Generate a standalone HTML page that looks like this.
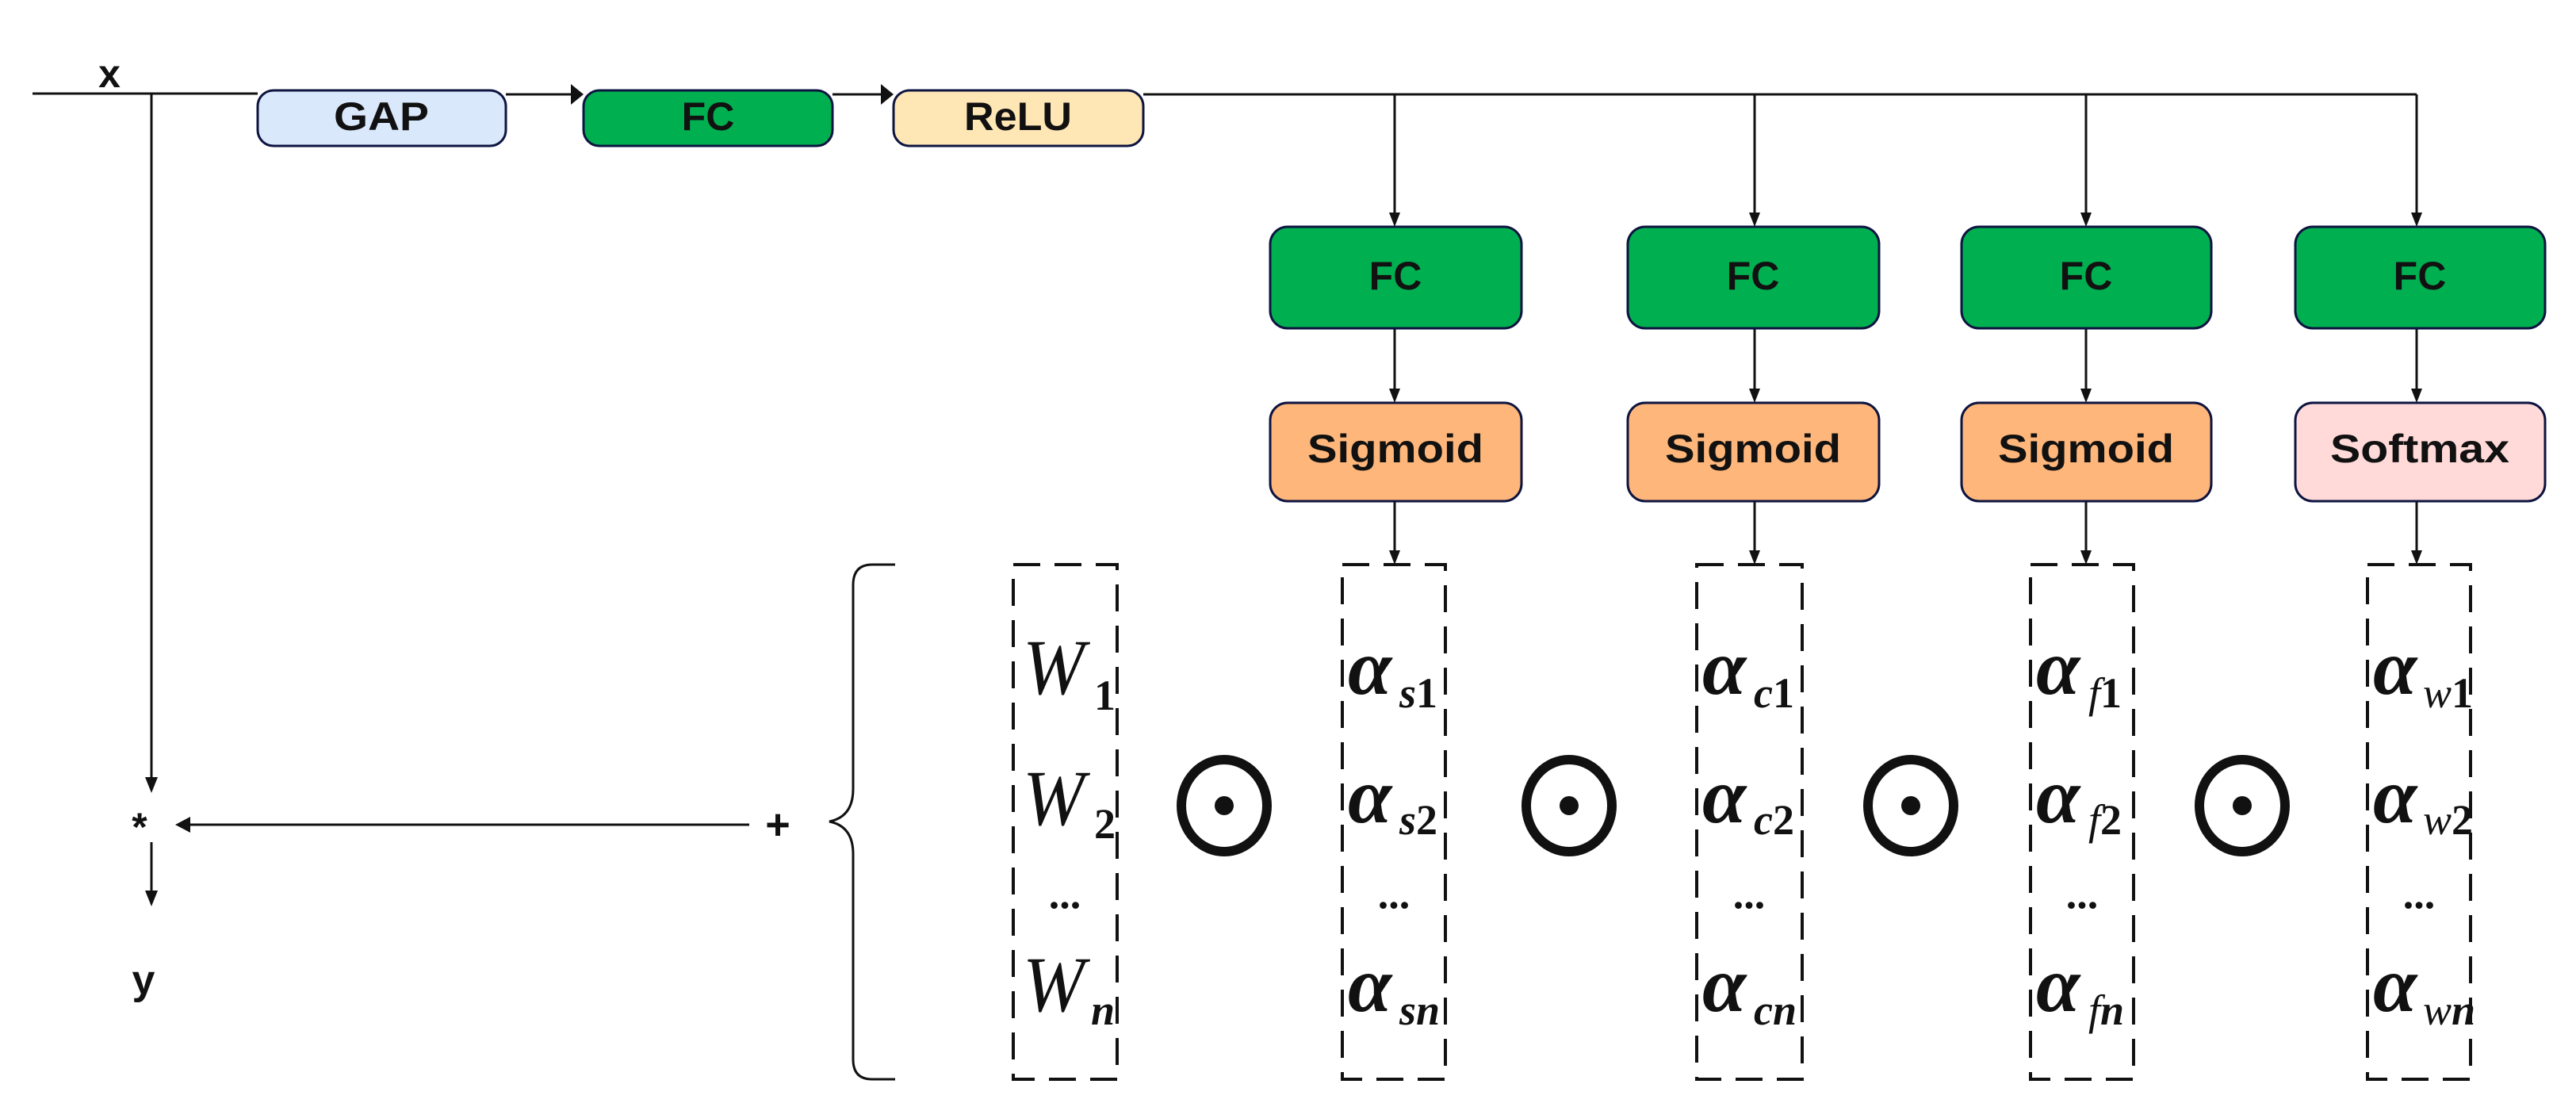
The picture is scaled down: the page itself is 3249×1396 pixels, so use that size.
<!DOCTYPE html>
<html><head><meta charset="utf-8"><style>
html,body{margin:0;padding:0;background:#fff;}
svg{display:block;}
.lbl{font-family:"Liberation Sans",sans-serif;font-weight:bold;font-size:50px;fill:#111;}
.m{font-family:"Liberation Serif",serif;font-style:italic;fill:#111;}
</style></head><body>
<svg width="3249" height="1396" viewBox="0 0 3249 1396" xmlns="http://www.w3.org/2000/svg">
<g stroke="#111" stroke-width="3" fill="none">
<line x1="41" y1="118" x2="325" y2="118"/>
<line x1="638" y1="119" x2="722" y2="119"/>
<line x1="1050" y1="119" x2="1113" y2="119"/>
<line x1="1442" y1="119" x2="3048" y2="119"/>
<line x1="191" y1="118" x2="191" y2="985"/>
<line x1="945" y1="1040" x2="235" y2="1040"/>
<line x1="191" y1="1062" x2="191" y2="1128"/>
<line x1="1759" y1="119" x2="1759" y2="272"/>
<line x1="2213" y1="119" x2="2213" y2="272"/>
<line x1="2631" y1="119" x2="2631" y2="272"/>
<line x1="3048" y1="119" x2="3048" y2="272"/>
<line x1="1759" y1="414" x2="1759" y2="494"/>
<line x1="2213" y1="414" x2="2213" y2="494"/>
<line x1="2631" y1="414" x2="2631" y2="494"/>
<line x1="3048" y1="414" x2="3048" y2="494"/>
<line x1="1759" y1="632" x2="1759" y2="697"/>
<line x1="2213" y1="632" x2="2213" y2="697"/>
<line x1="2631" y1="632" x2="2631" y2="697"/>
<line x1="3048" y1="632" x2="3048" y2="697"/>
</g>
<g fill="#111">
<polygon points="736,119 720,106 720,132"/>
<polygon points="1127,119 1111,106 1111,132"/>
<polygon points="221,1040 240,1030 240,1050"/>
<polygon points="191,1000 183,980 199,980"/>
<polygon points="191,1143 183,1123 199,1123"/>
<g id="dn">
<polygon points="1759,286 1752,268 1766,268"/>
<polygon points="1759,508 1752,490 1766,490"/>
<polygon points="1759,712 1752,694 1766,694"/>
</g>
<use href="#dn" x="454"/><use href="#dn" x="872"/><use href="#dn" x="1289"/>
</g>
<g stroke="#0d1440" stroke-width="3">
<rect x="325" y="114" width="313" height="70" rx="20" fill="#dae8fc"/>
<rect x="736" y="114" width="314" height="70" rx="20" fill="#00b050"/>
<rect x="1127" y="114" width="315" height="70" rx="20" fill="#ffe6b5"/>
<rect x="1602" y="286" width="317" height="128" rx="22" fill="#00b050"/>
<rect x="2053" y="286" width="317" height="128" rx="22" fill="#00b050"/>
<rect x="2474" y="286" width="315" height="128" rx="22" fill="#00b050"/>
<rect x="2895" y="286" width="315" height="128" rx="22" fill="#00b050"/>
<rect x="1602" y="508" width="317" height="124" rx="22" fill="#ffb67a"/>
<rect x="2053" y="508" width="317" height="124" rx="22" fill="#ffb67a"/>
<rect x="2474" y="508" width="315" height="124" rx="22" fill="#ffb67a"/>
<rect x="2895" y="508" width="315" height="124" rx="22" fill="#ffdad9"/>
</g>
<g class="lbl" text-anchor="middle">
<text x="481" y="151" dominant-baseline="middle" textLength="120" lengthAdjust="spacingAndGlyphs">GAP</text>
<text x="893" y="151" dominant-baseline="middle">FC</text>
<text x="1284" y="151" dominant-baseline="middle" textLength="136" lengthAdjust="spacingAndGlyphs">ReLU</text>
<text x="1760" y="352" dominant-baseline="middle">FC</text>
<text x="2211" y="352" dominant-baseline="middle">FC</text>
<text x="2631" y="352" dominant-baseline="middle">FC</text>
<text x="3052" y="352" dominant-baseline="middle">FC</text>
<text x="1760" y="570" dominant-baseline="middle" textLength="222" lengthAdjust="spacingAndGlyphs">Sigmoid</text>
<text x="2211" y="570" dominant-baseline="middle" textLength="222" lengthAdjust="spacingAndGlyphs">Sigmoid</text>
<text x="2631" y="570" dominant-baseline="middle" textLength="222" lengthAdjust="spacingAndGlyphs">Sigmoid</text>
<text x="3052" y="570" dominant-baseline="middle" textLength="226" lengthAdjust="spacingAndGlyphs">Softmax</text>
<text x="138" y="110" font-size="50">x</text>
<text x="176" y="1060" font-size="50">*</text>
<text x="981" y="1058" font-size="54">+</text>
<text x="181" y="1253" font-size="52">y</text>
</g>
<path d="M1129,712 H1100 Q1076,712 1076,738 V995 Q1076,1030 1046,1036 Q1076,1042 1076,1077 V1336 Q1076,1361 1100,1361 H1129" stroke="#111" stroke-width="3" fill="none"/>
<g stroke="#111" stroke-width="4" fill="none" stroke-dasharray="34,18">
<rect x="1278" y="712" width="131" height="649"/>
<rect x="1693" y="712" width="130" height="649"/>
<rect x="2140" y="712" width="133" height="649"/>
<rect x="2561" y="712" width="130" height="649"/>
<rect x="2986" y="712" width="130" height="649"/>
</g>
<g stroke="#111" stroke-width="12" fill="none">
<ellipse cx="1544" cy="1016" rx="54" ry="58"/>
<ellipse cx="1979" cy="1016" rx="54" ry="58"/>
<ellipse cx="2410" cy="1016" rx="54" ry="58"/>
<ellipse cx="2828" cy="1016" rx="54" ry="58"/>
</g>
<g fill="#111">
<circle cx="1544" cy="1016" r="12"/><circle cx="1979" cy="1016" r="12"/><circle cx="2410" cy="1016" r="12"/><circle cx="2828" cy="1016" r="12"/>
</g>
<g class="m">
<g font-size="100">
<text x="1290" y="875" textLength="78" lengthAdjust="spacingAndGlyphs">W</text><text x="1290" y="1040" textLength="78" lengthAdjust="spacingAndGlyphs">W</text><text x="1290" y="1275" textLength="78" lengthAdjust="spacingAndGlyphs">W</text>
</g>
<g font-size="54" font-style="normal" font-weight="bold">
<text x="1380" y="895">1</text><text x="1380" y="1057">2</text>
</g>
<text x="1376" y="1292" font-size="54" font-weight="bold">n</text>
<g font-size="54" font-weight="bold" font-style="normal" text-anchor="middle">
<text x="1343" y="1145">...</text><text x="1758" y="1145">...</text><text x="2206" y="1145">...</text><text x="2626" y="1145">...</text><text x="3051" y="1145">...</text>
</g>
<g font-size="100" font-weight="bold">
<text x="1700" y="875">α</text><text x="1700" y="1037">α</text><text x="1700" y="1275">α</text>
<text x="2147" y="875">α</text><text x="2147" y="1037">α</text><text x="2147" y="1275">α</text>
<text x="2568" y="875">α</text><text x="2568" y="1037">α</text><text x="2568" y="1275">α</text>
<text x="2993" y="875">α</text><text x="2993" y="1037">α</text><text x="2993" y="1275">α</text>
</g>
<g font-size="54" font-weight="bold">
<text x="1765" y="892">s<tspan font-style="normal">1</tspan></text><text x="1765" y="1052">s<tspan font-style="normal">2</tspan></text><text x="1765" y="1292">sn</text>
<text x="2212" y="892">c<tspan font-style="normal">1</tspan></text><text x="2212" y="1052">c<tspan font-style="normal">2</tspan></text><text x="2212" y="1292">cn</text>
<text x="2634" y="892"><tspan font-weight="normal">f</tspan><tspan font-style="normal">1</tspan></text><text x="2634" y="1052"><tspan font-weight="normal">f</tspan><tspan font-style="normal">2</tspan></text><text x="2634" y="1292"><tspan font-weight="normal">f</tspan>n</text>
<text x="3056" y="892"><tspan font-weight="normal">w</tspan><tspan font-style="normal">1</tspan></text><text x="3056" y="1052"><tspan font-weight="normal">w</tspan><tspan font-style="normal">2</tspan></text><text x="3056" y="1292"><tspan font-weight="normal">w</tspan>n</text>
</g>
</g>
</svg>
</body></html>
